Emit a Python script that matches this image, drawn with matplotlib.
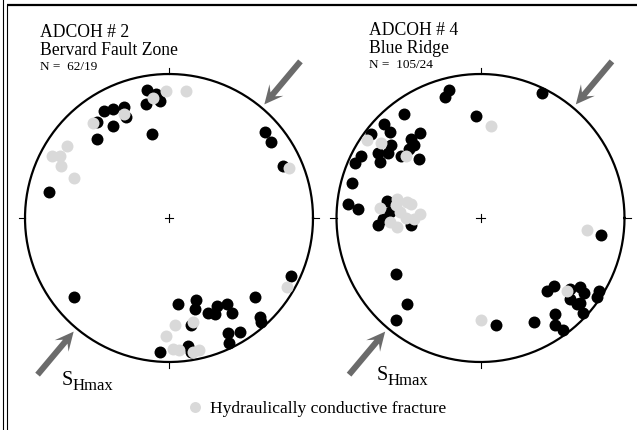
import matplotlib.pyplot as plt
import numpy as np

plt.rcParams['font.family'] = 'Liberation Serif'

# poles to fractures, equal-area net (unit circle), ADCOH 2
bfz_x = [-0.15, -0.09, -0.16, -0.06, -0.12, -0.45, -0.39, -0.31, -0.30, -0.39,
         -0.50, -0.50, -0.83, 0.67, 0.71, 0.79, -0.66, 0.85, 0.60, 0.63,
         0.64, 0.41, 0.49, 0.42, 0.06, 0.19, 0.18, 0.27, 0.33, 0.32,
         0.40, 0.44, 0.15, -0.06, 0.13, 0.15]
bfz_y = [0.89, 0.86, 0.79, 0.81, 0.58, 0.74, 0.76, 0.77, 0.70, 0.64,
         0.67, 0.55, 0.18, 0.60, 0.53, 0.36, -0.55, -0.40, -0.55, -0.69,
         -0.72, -0.80, -0.79, -0.87, -0.60, -0.57, -0.63, -0.66, -0.61, -0.67,
         -0.60, -0.66, -0.74, -0.93, -0.89, -0.93]
# hydraulically conductive ones
bfz_hx = [-0.11, -0.02, 0.12, -0.31, -0.53, -0.71, -0.81, -0.76, -0.75, -0.66,
          0.83, 0.82, 0.17, 0.04, -0.02, 0.03, 0.07, 0.21, 0.17]
bfz_hy = [0.83, 0.88, 0.88, 0.72, 0.66, 0.50, 0.43, 0.43, 0.36, 0.28,
          0.35, -0.48, -0.72, -0.74, -0.82, -0.91, -0.92, -0.92, -0.93]

# ADCOH 4
br_x = [-0.22, -0.25, 0.43, -0.03, -0.53, -0.67, -0.63, -0.76, -0.62, -0.64,
        -0.71, -0.70, -0.83, -0.87, -0.48, -0.42, -0.46, -0.50, -0.55, -0.43,
        -0.89, -0.92, -0.85, -0.65, -0.63, -0.71, -0.48, -0.68, 0.84, -0.59,
        -0.51, -0.59, 0.11, 0.37, 0.52, 0.52, 0.57, 0.46, 0.51, 0.62,
        0.69, 0.72, 0.62, 0.67, 0.71, 0.82, 0.81, 0.69]
br_y = [0.89, 0.84, 0.87, 0.71, 0.72, 0.65, 0.60, 0.58, 0.51, 0.45,
        0.45, 0.39, 0.43, 0.38, 0.55, 0.59, 0.51, 0.48, 0.43, 0.41,
        0.24, 0.10, 0.06, 0.12, 0.04, -0.05, -0.05, -0.01, -0.12, -0.39,
        -0.60, -0.71, -0.74, -0.72, -0.67, -0.74, -0.78, -0.51, -0.47, -0.49,
        -0.48, -0.52, -0.56, -0.60, -0.66, -0.51, -0.55, -0.59]
br_hx = [0.07, -0.79, -0.69, -0.52, -0.70, -0.58, -0.51, -0.48, -0.42, -0.56,
         -0.52, -0.58, -0.59, -0.46, -0.63, 0.74, 0.00, 0.60]
br_hy = [0.64, 0.54, 0.52, 0.43, 0.07, 0.13, 0.11, 0.10, 0.03, 0.04,
         0.00, -0.06, 0.09, -0.01, -0.03, -0.08, -0.71, -0.51]

# SHmax azimuth (deg from north)
shmax = [40, 40]

W, H = 637, 430
fig = plt.figure(figsize=(W / 100, H / 100), dpi=100)

bg = fig.add_axes([0, 0, 1, 1])
bg.set_xlim(0, W)
bg.set_ylim(H, 0)
bg.axis('off')

# page frame
bg.plot([7, W], [4.5, 4.5], color='black', lw=1.6, solid_capstyle='butt')
bg.plot([2.5, 2.5], [0, H], color='black', lw=0.8)
bg.plot([7, 7], [4.5, H], color='black', lw=0.8)

GREY = '#d9d9d9'
ARROW = '#6b6b6b'


def stereonet(cx, cy, r, x, y, hx, hy, az):
    lim = 1.08
    ax = fig.add_axes([(cx - lim * r) / W, (H - cy - lim * r) / H,
                       2 * lim * r / W, 2 * lim * r / H])
    ax.set_xlim(-lim, lim)
    ax.set_ylim(-lim, lim)
    ax.axis('off')
    t = np.linspace(0, 2 * np.pi, 400)
    ax.plot(np.cos(t), np.sin(t), color='black', lw=1.6)
    # N E S W ticks and centre cross
    tk = 0.045
    ax.plot([0, 0], [1, 1 + tk], color='black', lw=0.8)
    ax.plot([0, 0], [-1, -1 - tk], color='black', lw=0.8)
    ax.plot([1, 1 + tk], [0, 0], color='black', lw=0.8)
    ax.plot([-1, -1 - tk], [0, 0], color='black', lw=0.8)
    ax.plot([-0.03, 0.03], [0, 0], color='black', lw=0.8)
    ax.plot([0, 0], [-0.03, 0.03], color='black', lw=0.8)

    ax.scatter(x, y, s=74, color='black', lw=0, clip_on=False, zorder=3)
    ax.scatter(hx, hy, s=74, color=GREY, lw=0, clip_on=False, zorder=4)

    # SHmax arrows pointing in on both sides
    for a in (az, az + 180):
        th = np.radians(a)
        ux, uy = np.sin(th), np.cos(th)
        ax.arrow(1.42 * ux, 1.42 * uy, -0.39 * ux, -0.39 * uy,
                 width=0.042, head_width=0.125, head_length=0.13,
                 overhang=0.3, length_includes_head=True,
                 color=ARROW, lw=0, clip_on=False, zorder=5)
    return ax


stereonet(169, 218, 144, bfz_x, bfz_y, bfz_hx, bfz_hy, shmax[0])
stereonet(480.5, 218, 144, br_x, br_y, br_hx, br_hy, shmax[1])

# titles
bg.text(40, 36.7, 'ADCOH # 2', fontsize=12.7, va='baseline')
bg.text(40, 55, 'Bervard Fault Zone', fontsize=12.7, va='baseline')
bg.text(40, 70, 'N =  62/19', fontsize=9.5, va='baseline')
bg.text(369, 35, 'ADCOH # 4', fontsize=12.7, va='baseline')
bg.text(369, 53.3, 'Blue Ridge', fontsize=12.7, va='baseline')
bg.text(369, 68.3, 'N =  105/24', fontsize=9.5, va='baseline')

# SHmax labels
bg.text(62, 385, 'S', fontsize=14.5, va='baseline')
bg.text(72.5, 390, 'Hmax', fontsize=12, va='baseline')
bg.text(377, 380, 'S', fontsize=14.5, va='baseline')
bg.text(388, 385, 'Hmax', fontsize=12, va='baseline')

# key
bg.scatter([195], [407], s=62, color=GREY, lw=0)
bg.text(210, 413, 'Hydraulically conductive fracture', fontsize=12.6,
        va='baseline')

fig.savefig('out.png', dpi=100)
